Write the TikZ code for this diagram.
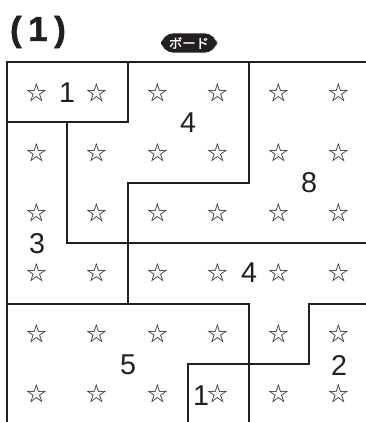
\documentclass[tikz,border=0pt]{standalone}
\usepackage{fontspec}
\setmainfont{Liberation Sans}
\newfontfamily\jpfont{Noto Sans CJK JP}
\newfontfamily\jpheavy[FakeBold=1.2]{Noto Sans CJK JP}
\newfontfamily\titlefont[FakeBold=1.5]{Liberation Sans Bold}
\definecolor{ink}{HTML}{231F20}
\begin{document}
\begin{tikzpicture}[x=0.75pt,y=-0.75pt,
  star/.style={font=\jpfont\fontsize{15.5}{15.5}\selectfont, text=ink, inner sep=0pt},
  num/.style={font=\fontsize{21.5}{21.5}\selectfont, text=ink, inner sep=0pt},
  outer/.style={draw=ink, line width=1.5pt},
  inner/.style={draw=ink, line width=1.1pt}]
\useasboundingbox (0,0) rectangle (366,422);
% title
\node[font=\titlefont\fontsize{26}{26}\selectfont, text=ink, inner sep=0pt] (title) at (38,32) {(\kern5pt1\kern5pt)};
\node[fill=ink, rounded corners=9.5pt, minimum width=42pt, minimum height=14.5pt, inner sep=0pt,
      text=white, font=\jpheavy\fontsize{10}{10}\selectfont] (board) at (189,43) {ボード};
% stars
\foreach \c/\x in {1/37,2/97,3/158,4/218,5/279,6/339}{
  \foreach \r/\y in {1/93,2/153,3/213,4/273,5/334,6/394}{
    \node[star] (s-\r-\c) at (\x,\y) {☆};
  }
}
% numbers
\node[num] (n1) at (67,93) {1};
\node[num] (n4a) at (188,123) {4};
\node[num] (n8) at (309,183) {8};
\node[num] (n3) at (37,244) {3};
\node[num] (n4b) at (249,273) {4};
\node[num] (n5) at (128,365) {5};
\node[num] (n2) at (339,365) {2};
\node[num] (n1b) at (201,396) {1};
% inner lines
\draw[inner] (7,122) -- (128,122) -- (128,62);
\draw[inner] (249,62) -- (249,183) -- (128,183) -- (128,304);
\draw[inner] (67,122) -- (67,243) -- (366,243);
\draw[inner] (7,304) -- (249,304) -- (249,422);
\draw[inner] (366,304) -- (309,304) -- (309,364) -- (188,364) -- (188,422);
% outer border
\draw[outer] (366,62) -- (7,62) -- (7,422);
\end{tikzpicture}
\end{document}
